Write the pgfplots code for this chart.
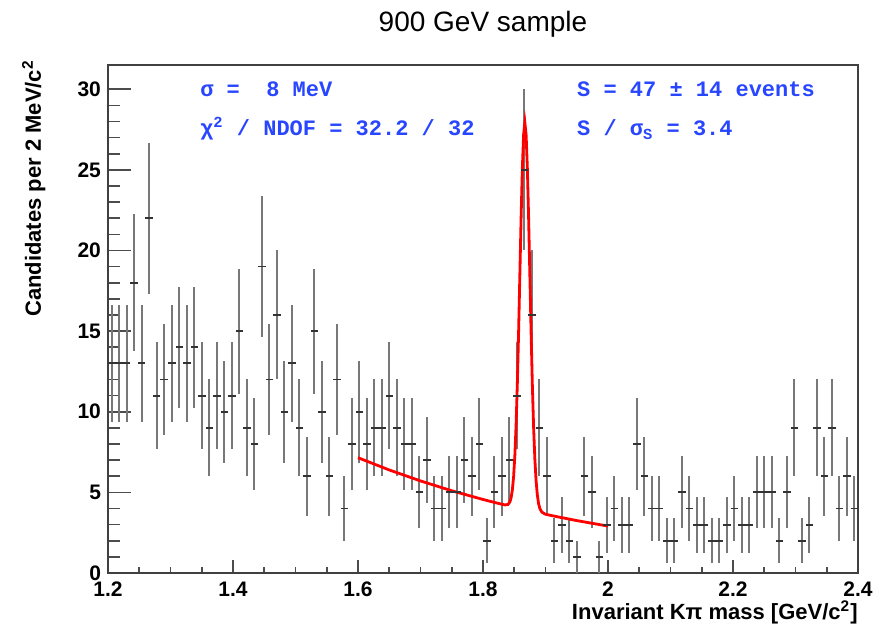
\documentclass[border=0pt]{standalone}
\usepackage{fontspec}
\setmainfont{Liberation Sans}
\newfontfamily\monob{Liberation Mono}
\usepackage{pgfplots}
\usepackage{pgfplotstable}
\pgfplotsset{compat=1.18}
\definecolor{rootblue}{RGB}{40,70,255}
\definecolor{barcol}{RGB}{120,120,120}

% Kpi invariant mass histogram, 12 MeV bins, Poisson errors
\pgfplotstableread{
x y ey
1.206 13 3.61
1.218 13 3.61
1.230 13 3.61
1.242 18 4.24
1.254 13 3.61
1.266 22 4.69
1.278 11 3.32
1.290 12 3.46
1.302 13 3.61
1.314 14 3.74
1.326 13 3.61
1.338 14 3.74
1.350 11 3.32
1.362 9 3.00
1.374 11 3.32
1.386 10 3.16
1.398 11 3.32
1.410 15 3.87
1.422 9 3.00
1.434 8 2.83
1.446 19 4.36
1.458 12 3.46
1.470 16 4.00
1.482 10 3.16
1.494 13 3.61
1.506 9 3.00
1.518 6 2.45
1.530 15 3.87
1.542 10 3.16
1.554 6 2.45
1.566 12 3.46
1.578 4 2.00
1.590 8 2.83
1.602 10 3.16
1.614 8 2.83
1.626 9 3.00
1.638 9 3.00
1.650 11 3.32
1.662 9 3.00
1.674 8 2.83
1.686 8 2.83
1.698 5 2.24
1.710 7 2.65
1.722 4 2.00
1.734 4 2.00
1.746 5 2.24
1.758 5 2.24
1.770 7 2.65
1.782 6 2.45
1.794 8 2.83
1.806 2 1.41
1.818 5 2.24
1.830 6 2.45
1.842 7 2.65
1.854 11 3.32
1.866 25 5.00
1.878 16 4.00
1.890 9 3.00
1.902 6 2.45
1.914 2 1.41
1.926 3 1.73
1.938 2 1.41
1.950 1 1.00
1.962 6 2.45
1.974 5 2.24
1.986 1 1.00
1.998 3 1.73
2.010 4 2.00
2.022 3 1.73
2.034 3 1.73
2.046 8 2.83
2.058 6 2.45
2.070 4 2.00
2.082 4 2.00
2.094 2 1.41
2.106 2 1.41
2.118 5 2.24
2.130 4 2.00
2.142 3 1.73
2.154 3 1.73
2.166 2 1.41
2.178 2 1.41
2.190 3 1.73
2.202 4 2.00
2.214 3 1.73
2.226 3 1.73
2.238 5 2.24
2.250 5 2.24
2.262 5 2.24
2.274 2 1.41
2.286 5 2.24
2.298 9 3.00
2.310 2 1.41
2.322 3 1.73
2.334 9 3.00
2.346 6 2.45
2.358 9 3.00
2.370 4 2.00
2.382 6 2.45
2.394 4 2.00
}\kpidata

\begin{document}
\begin{tikzpicture}
\begin{axis}[
    scale only axis, width=375pt, height=254pt,
    xmin=1.2, xmax=2.4, ymin=0, ymax=31.5,
    xtick={1.2,1.4,1.6,1.8,2,2.2,2.4}, minor x tick num=3,
    ytick={0,5,10,15,20,25,30}, minor y tick num=4,
    tick align=inside, xtick pos=left, ytick pos=left,
    major tick length=11.5pt, minor tick length=6pt,
    xtick style={/pgfplots/major tick length=6.5pt, /pgfplots/minor tick length=3pt},
    tick style={line width=0.8pt, black!70},
    axis line style={line width=1pt, black!75},
    tick label style={font=\fontsize{10.5}{12}\selectfont\bfseries},
    xticklabel style={yshift=-1pt},
    /pgf/number format/assume math mode=true,
    xlabel={Invariant Kπ mass [GeV/c\textsuperscript{2}]},
    xlabel style={at={(rel axis cs:1,-0.054)}, anchor=north east, inner sep=0pt,
        font=\fontsize{11}{13}\selectfont\bfseries},
    ylabel={Candidates per 2 MeV/c\textsuperscript{2}},
    ylabel style={at={(rel axis cs:-0.115,1.01)}, anchor=north east, inner sep=0pt,
        font=\fontsize{11}{13}\selectfont\bfseries},
    title={900 GeV sample},
    title style={at={(rel axis cs:0.5,1.042)}, anchor=base, inner sep=0pt,
        font=\fontsize{14}{16}\selectfont},
]
\addplot[barcol, only marks, mark=-, mark size=1.875pt,
    mark options={black!80, line width=0.9pt},
    error bars/.cd, y dir=both, y explicit,
    error mark=none, error bar style={line width=1.2pt, barcol}]
    table[x=x, y=y, y error=ey] {\kpidata};

\addplot[red, line width=1.4pt] coordinates {
    (1.600,7.15) (1.650,6.39) (1.700,5.71) (1.750,5.10) (1.800,4.56)
    (1.820,4.36) (1.835,4.22) (1.840,4.25) (1.843,4.41) (1.845,4.67)
    (1.847,5.16) (1.849,5.99) (1.851,7.31) (1.853,9.24) (1.855,11.82)
    (1.857,15.00) (1.859,18.55) (1.861,22.09) (1.863,25.14) (1.865,27.20)
    (1.867,27.92) (1.869,27.16) (1.871,25.07) (1.873,21.99) (1.875,18.42)
    (1.877,14.83) (1.879,11.61) (1.881,9.00) (1.883,7.04) (1.885,5.69)
    (1.887,4.82) (1.889,4.29) (1.891,4.00) (1.894,3.78) (1.900,3.64)
    (1.920,3.48) (1.950,3.25) (2.000,2.91)
};

\node[anchor=base west, inner sep=0pt, text=rootblue,
    font=\fontsize{11}{13}\monob\bfseries\selectfont] at (axis cs:1.347,29.53) {σ =\ \ 8 MeV};
\node[anchor=base west, inner sep=0pt, text=rootblue,
    font=\fontsize{11}{13}\monob\bfseries\selectfont] at (axis cs:1.347,27.11) {χ\textsuperscript{2} / NDOF = 32.2 / 32};
\node[anchor=base west, inner sep=0pt, text=rootblue,
    font=\fontsize{11}{13}\monob\bfseries\selectfont] at (axis cs:1.950,29.53) {S = 47 ± 14 events};
\node[anchor=base west, inner sep=0pt, text=rootblue,
    font=\fontsize{11}{13}\monob\bfseries\selectfont] at (axis cs:1.950,27.11) {S / σ\textsubscript{S} = 3.4};
\end{axis}
\pgfresetboundingbox
\path[use as bounding box] ([shift={(-54pt,-27.5pt)}]current axis.south west)
    rectangle ([shift={(15.5pt,32.5pt)}]current axis.north east);
\end{tikzpicture}
\end{document}
